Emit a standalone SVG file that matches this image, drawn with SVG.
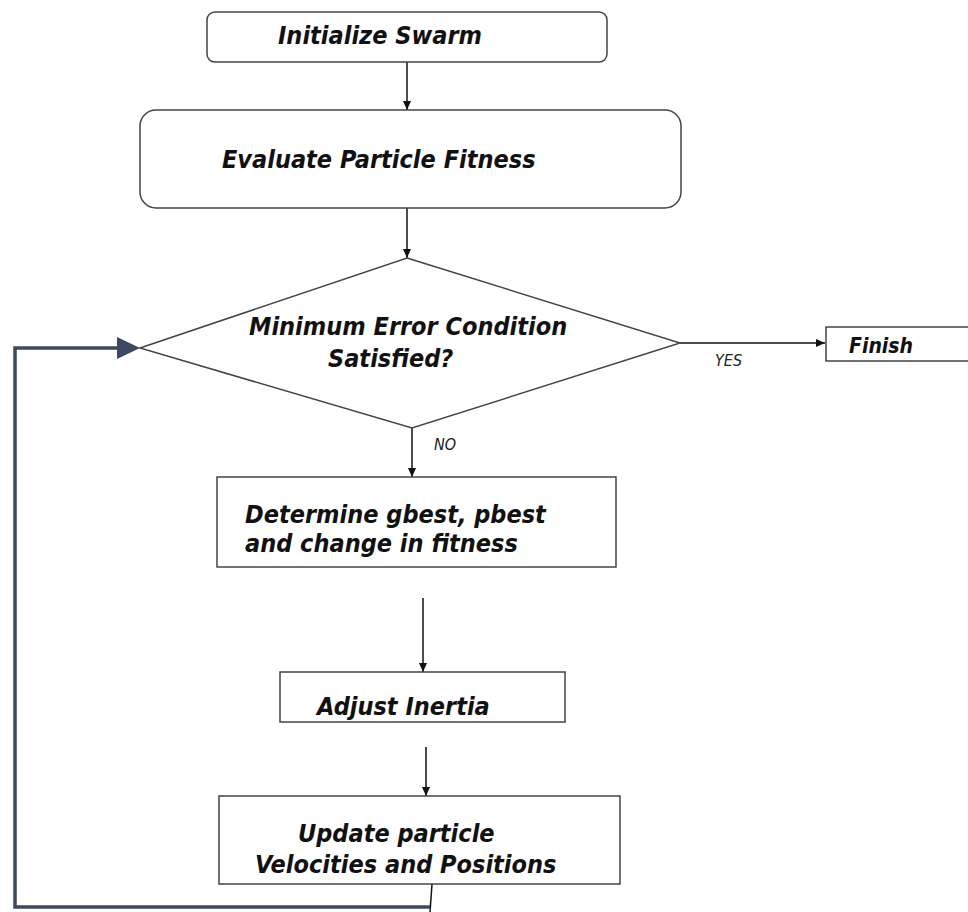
<svg xmlns="http://www.w3.org/2000/svg" width="968" height="912" viewBox="0 0 968 912">
<style>
.box{fill:#fff;stroke:#444;stroke-width:1.5}
.t{font-family:"DejaVu Sans Condensed","DejaVu Sans",sans-serif;font-weight:bold;font-style:italic;font-size:25px;fill:#111}
.s{font-family:"DejaVu Sans Condensed","DejaVu Sans",sans-serif;font-style:italic;font-size:16px;fill:#222}
.c{stroke:#111;stroke-width:1.5;fill:none}
.fb{stroke:#3c4960;stroke-width:3.5;fill:none}
</style>
<defs>
<marker id="ah" markerWidth="10" markerHeight="10" refX="9" refY="5" orient="auto" markerUnits="userSpaceOnUse">
<path d="M0,1 L9,5 L0,9 Z" fill="#111"/>
</marker>
</defs>
<rect width="968" height="912" fill="#fff"/>
<g id="connectors">
<line class="c" x1="407" y1="62" x2="407" y2="110" marker-end="url(#ah)"/>
<line class="c" x1="407" y1="208" x2="407" y2="258" marker-end="url(#ah)"/>
<line class="c" x1="680" y1="343" x2="825" y2="343" marker-end="url(#ah)"/>
<line class="c" x1="412" y1="428" x2="412" y2="477" marker-end="url(#ah)"/>
<line class="c" x1="423" y1="598" x2="423" y2="672" marker-end="url(#ah)"/>
<line class="c" x1="426" y1="747" x2="426" y2="796" marker-end="url(#ah)"/>
<line class="c" x1="432" y1="884" x2="430" y2="912"/>
<polyline class="fb" points="430,907 15,907 15,348 120,348"/>
<path d="M117,337 L140,348 L117,359 Z" fill="#3c4960"/>
<text class="s" x="715" y="366">YES</text>
<text class="s" x="434" y="450">NO</text>
</g>
<g id="init">
<rect class="box" x="207" y="12" width="400" height="50" rx="8"/>
<text class="t" x="278" y="44">Initialize Swarm</text>
</g>
<g id="evaluate">
<rect class="box" x="140" y="110" width="541" height="98" rx="16"/>
<text class="t" x="222" y="168">Evaluate Particle Fitness</text>
</g>
<g id="decision">
<polygon class="box" points="407,258 680,343 412,428 140,348"/>
<text class="t" x="249" y="335">Minimum Error Condition</text>
<text class="t" x="328" y="367">Satisfied?</text>
</g>
<g id="finish">
<rect class="box" x="826" y="327" width="150" height="34"/>
<text class="t" x="849" y="353" style="font-size:21px">Finish</text>
</g>
<g id="determine">
<rect class="box" x="217" y="477" width="399" height="90"/>
<text class="t" x="245" y="523">Determine gbest, pbest</text>
<text class="t" x="245" y="552">and change in fitness</text>
</g>
<g id="adjust">
<rect class="box" x="280" y="672" width="285" height="50"/>
<text class="t" x="317" y="715">Adjust Inertia</text>
</g>
<g id="update">
<rect class="box" x="219" y="796" width="401" height="88"/>
<text class="t" x="298" y="842">Update particle</text>
<text class="t" x="255" y="873">Velocities and Positions</text>
</g>
</svg>
